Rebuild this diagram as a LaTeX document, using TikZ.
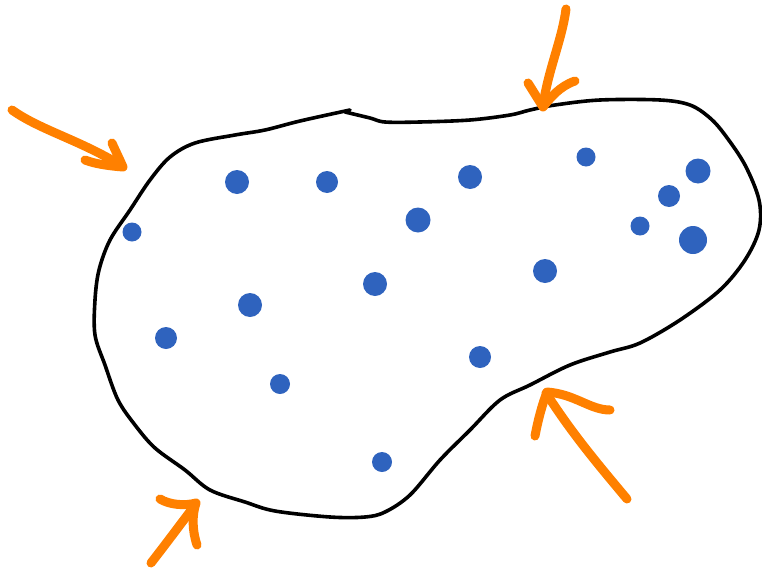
\documentclass[tikz,border=0pt]{standalone}
\begin{document}
\begin{tikzpicture}[x=1pt,y=-1pt,
  blob/.style={draw=black,line width=3.6pt,line join=round,line cap=round},
  dotc/.style={fill=dotblue,draw=none},
  arr/.style={draw=arrorange,line width=9pt,line cap=round,line join=round}]
\definecolor{dotblue}{RGB}{47,99,190}
\definecolor{arrorange}{RGB}{255,128,0}
\useasboundingbox (0,0) rectangle (762,570);
% blob outline
\draw[blob] plot[smooth,tension=0.55] coordinates {
 (350,110) (300,121) (265,130) (235,135) (195,143) (170,157) (150,180) (130,210)
 (110,240) (99,270) (95,300) (95,335) (105,365) (118,400) (135,425) (155,448)
 (185,470) (210,490) (245,502) (275,511) (330,517) (365,517) (385,512) (410,495)
 (440,460) (470,430) (500,400) (530,385) (570,365) (610,352) (640,343) (680,320)
 (720,290) (745,260) (759,230) (759,200) (745,165) (725,135) (710,118) (690,105)
 (660,100) (600,100) (555,105) (530,110) (510,115) (470,120) (420,122) (385,122)
 (370,118) (345,112)};
% dots
\foreach \x/\y/\r in {237/182/12, 327/182/11, 470/177/12, 586/157/9.5, 698/171/12.5,
  669/196/11, 640/226/9.5, 693/240/14, 418/220/12.5, 132/232/9.5, 545/271/12,
  375/284/12, 250/305/12, 166/338/11, 480/357/11, 280/384/10, 382/462/10}
  \fill[dotc] (\x,\y) circle (\r);
% arrow top-left
\draw[arr] (12,110) .. controls (40,130) and (80,140) .. (122,166);
\draw[arr] (112,143) .. controls (116,152) and (120,160) .. (123,167)
  .. controls (110,166) and (95,164) .. (85,160);
% arrow top
\draw[arr] (566,9) .. controls (562,40) and (548,70) .. (543,106);
\draw[arr] (528,83) -- (543,107) .. controls (550,98) and (560,86) .. (575,81);
% arrow bottom-right
\draw[arr] (627,499) .. controls (590,455) and (570,430) .. (546,393);
\draw[arr] (535,436) .. controls (538,420) and (542,405) .. (547,392)
  .. controls (575,394) and (590,410) .. (610,410);
% arrow bottom-left
\draw[arr] (151,563) .. controls (165,545) and (180,525) .. (195,505);
\draw[arr] (160,499) .. controls (170,505) and (185,506) .. (196,503)
  .. controls (192,515) and (192,530) .. (197,545);
\end{tikzpicture}
\end{document}
